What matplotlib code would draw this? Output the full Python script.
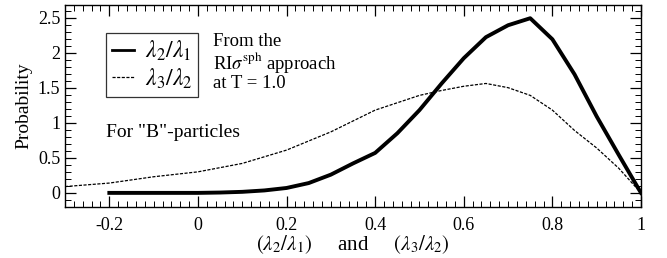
import matplotlib
matplotlib.use("Agg")
import matplotlib.pyplot as plt
from matplotlib.ticker import MultipleLocator

plt.rcParams["font.family"] = ["Liberation Serif", "DejaVu Serif"]
plt.rcParams["mathtext.fontset"] = "stix"

# lambda2/lambda1 distribution (solid, thick)
x_l21 = [-0.2, -0.1, 0.0, 0.05, 0.1, 0.15, 0.2, 0.25, 0.3, 0.35, 0.4, 0.45, 0.5,
         0.55, 0.6, 0.65, 0.7, 0.75, 0.8, 0.85, 0.9, 0.95, 1.0]
p_l21 = [0.0, 0.0, 0.0, 0.005, 0.015, 0.035, 0.07, 0.14, 0.26, 0.42, 0.57, 0.85, 1.18,
         1.56, 1.92, 2.22, 2.39, 2.49, 2.19, 1.69, 1.09, 0.54, 0.0]

# lambda3/lambda2 distribution (dashed, thin)
x_l32 = [-0.3, -0.2, -0.1, 0.0, 0.1, 0.2, 0.3, 0.4, 0.5, 0.55, 0.6, 0.65, 0.7,
         0.75, 0.8, 0.85, 0.9, 0.95, 1.0]
p_l32 = [0.09, 0.14, 0.23, 0.30, 0.42, 0.61, 0.87, 1.18, 1.39, 1.46, 1.52, 1.56, 1.50,
         1.39, 1.18, 0.89, 0.64, 0.35, 0.0]

fig = plt.figure(figsize=(6.67, 2.58), dpi=100)
ax = fig.add_axes([0.0975, 0.198, 0.8635, 0.783])

l1, = ax.plot(x_l21, p_l21, color="black", lw=2.8)
l2, = ax.plot(x_l32, p_l32, color="black", lw=0.9, linestyle=(0, (2.5, 1.2)))

ax.set_xlim(-0.3, 1.0)
ax.set_ylim(-0.2, 2.68)
ax.xaxis.set_minor_locator(MultipleLocator(0.02))
ax.yaxis.set_minor_locator(MultipleLocator(0.1))
ax.set_xticks([-0.2, 0, 0.2, 0.4, 0.6, 0.8, 1.0])
ax.set_xticklabels(["-0.2", "0", "0.2", "0.4", "0.6", "0.8", "1"])
ax.set_yticks([0, 0.5, 1, 1.5, 2, 2.5])
ax.set_yticklabels(["0", "0.5", "1", "1.5", "2", "2.5"])
ax.tick_params(which="both", direction="in", top=True, right=True, labelsize=13)
ax.tick_params(which="major", length=8, width=0.9)
ax.tick_params(which="minor", length=4, width=0.7)
ax.tick_params(axis="x", pad=7)
for s in ax.spines.values():
    s.set_linewidth(1.0)

ax.set_ylabel("Probability", fontsize=14, labelpad=4)
ax.set_xlabel(r"$(\lambda_2/\lambda_1)$     and     $(\lambda_3/\lambda_2)$",
              fontsize=15, labelpad=0)

leg = ax.legend([l1, l2], [r"$\lambda_2/\lambda_1$", r"$\lambda_3/\lambda_2$"],
                loc="upper left", bbox_to_anchor=(0.071, 0.861), fontsize=17,
                frameon=True, fancybox=False, edgecolor="black", handlelength=0.95,
                handletextpad=0.45, borderpad=0.25, labelspacing=0.15, borderaxespad=0)
leg.get_frame().set_linewidth(0.9)
leg.legend_handles[0].set_linewidth(2.0)

ax.text(0.257, 0.86, "From the\nRI$\\sigma^{\\rm sph}$ approach\nat T = 1.0",
        transform=ax.transAxes, fontsize=13.5, va="top", ha="left", linespacing=1.0)
ax.text(0.071, 0.37, 'For "B"-particles', transform=ax.transAxes, fontsize=14,
        va="center", ha="left")

fig.savefig("out.png", dpi=100)
